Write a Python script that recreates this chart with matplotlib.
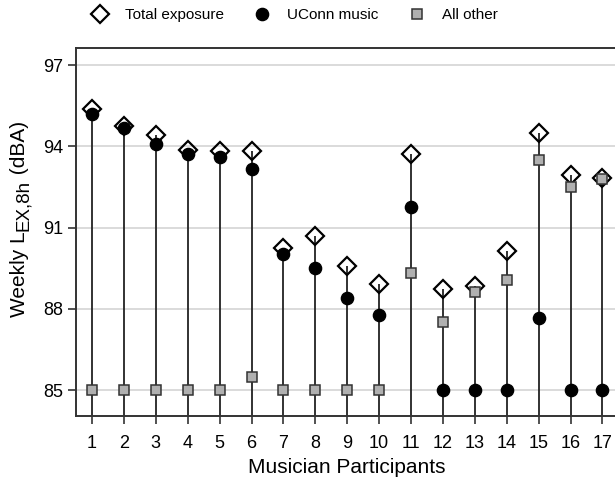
import matplotlib
matplotlib.use("Agg")
import matplotlib.pyplot as plt
from matplotlib.lines import Line2D

plt.rcParams["font.family"] = ["Liberation Sans", "DejaVu Sans"]

#### Data

participants = list(range(1, 18))
total = [95.36, 94.75, 94.41, 93.86, 93.84, 93.82, 90.23, 90.67, 89.58, 88.90,
         93.70, 88.73, 88.85, 90.13, 94.50, 92.94, 92.82]
uconn = [95.21, 94.69, 94.08, 93.71, 93.62, 93.15, 90.04, 89.50, 88.41, 87.77,
         91.77, 85.0, 85.0, 85.0, 87.67, 85.0, 85.0]
other = [85.0, 85.0, 85.0, 85.0, 85.0, 85.47, 85.0, 85.0, 85.0, 85.0,
         89.31, 87.50, 88.63, 89.06, 93.49, 92.51, 92.79]
yticks = [85, 88, 91, 94, 97]

#### Figure

W, H = 615, 480
fig = plt.figure(figsize = (W / 100, H / 100), dpi = 100)
ax = fig.add_axes([0.1236, 0.1333, 0.882, 0.7667])
ax.set_xlim(0.5, 17.5)
ax.set_ylim(84.04, 97.63)

ax.set_yticks(yticks)
ax.set_xticks(participants)
ax.grid(axis = "y", color = "#d4d4d4", linewidth = 1.2)
ax.set_axisbelow(True)

ybot = ax.get_ylim()[0]
ax.vlines(participants, ybot, total, color = "#222222", linewidth = 1.3, zorder = 2)

diamond = dict(marker = "D", markersize = 9, markerfacecolor = "none",
               markeredgecolor = "black", markeredgewidth = 1.6)
circle = dict(marker = "o", markersize = 8.8, markerfacecolor = "black", markeredgecolor = "black")
square = dict(marker = "s", markersize = 6.5, markerfacecolor = "#b0b0b0",
              markeredgecolor = "#333333", markeredgewidth = 1.1)

ax.plot(participants, total, linestyle = "none", zorder = 3, **diamond)
ax.plot(participants, other, linestyle = "none", zorder = 4, **square)
ax.plot(participants, uconn, linestyle = "none", zorder = 5, **circle)

for s in ["left", "bottom", "top"]:
    ax.spines[s].set_linewidth(1.4)
    ax.spines[s].set_color("#333333")
ax.spines["right"].set_visible(False)

ax.tick_params(axis = "both", direction = "out", length = 6, width = 1.2, labelsize = 13, color = "#333333")
ax.tick_params(axis = "x", pad = 8)

ax.set_xlabel("Musician Participants", fontsize = 15, labelpad = 4)

#### Y label built from pieces so the subscript stays large

fig.canvas.draw()
renderer = fig.canvas.get_renderer()
xbase = 25 / W
ypos = (H - 317) / H
pieces = [("Weekly L", 15, 0), ("EX,8h", 13.5, 3), (" (dBA)", 15, 0)]
for txt, fs, shift in pieces:
    t = fig.text(xbase + shift / W, ypos, txt, fontsize = fs, rotation = 90,
                 rotation_mode = "anchor", ha = "left", va = "baseline")
    bb = t.get_window_extent(renderer)
    ypos = bb.y1 / H

handles = [Line2D([], [], linestyle = "none", **diamond),
           Line2D([], [], linestyle = "none", **circle),
           Line2D([], [], linestyle = "none", **square)]
fig.legend(handles, ["Total exposure", "UConn music", "All other"], loc = "center",
           bbox_to_anchor = (295 / W, 1 - 15 / H), ncol = 3, frameon = False, fontsize = 11,
           handlelength = 1, handletextpad = 1.15, columnspacing = 2.0)

fig.savefig("out.png", dpi = 100)
